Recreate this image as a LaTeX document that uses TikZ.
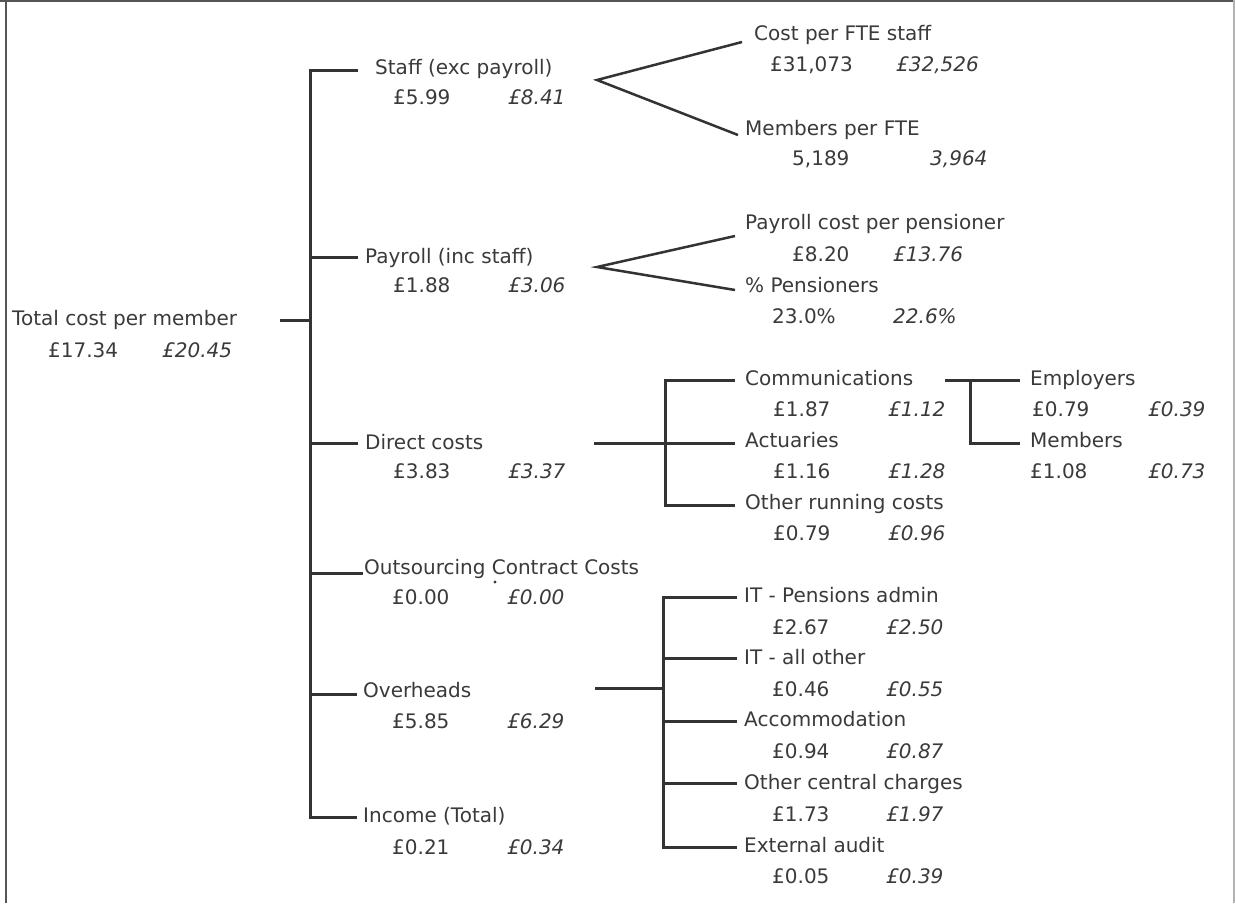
\documentclass[tikz,border=0pt]{standalone}
\usepackage{fontspec}
\setmainfont{DejaVu Sans}
\definecolor{txt}{HTML}{3A3A3A}
\definecolor{ln}{HTML}{333333}
\definecolor{frame}{HTML}{555555}
\begin{document}
\begin{tikzpicture}[x=1pt,y=-1pt,
  lbl/.style={anchor=west,inner sep=0pt,text height=14.5pt,text depth=0pt,text=txt,font=\fontsize{20}{24}\selectfont},
  ival/.style={lbl,font=\fontsize{20}{24}\selectfont\itshape},
  conn/.style={draw=ln,line width=3pt,line join=miter},
  fork/.style={draw=ln,line width=2.5pt,line join=miter}]
\useasboundingbox (0,0) rectangle (1235,903);
\fill[white] (0,0) rectangle (1235,903);
% frame
\draw[frame,line width=2pt] (0,1) -- (1235,1);
\draw[frame,line width=2.5pt] (6,0) -- (6,903);
\draw[gray!60,line width=1.5pt] (1234,0) -- (1234,903);

% root
\node[lbl] (root) at (12,318) {Total cost per member};
\node[lbl] (rootA) at (48,350) {£17.34};
\node[ival] (rootB) at (162,350) {£20.45};

% trunk
\coordinate (rootStub) at (280,320);
\coordinate (tRoot) at (310,320);
\coordinate (tStaff) at (310,70);  \coordinate (eStaff) at (358,70);
\coordinate (tPay) at (310,257);   \coordinate (ePay) at (358,257);
\coordinate (tDir) at (310,443);   \coordinate (eDir) at (358,443);
\coordinate (tOut) at (310,573);   \coordinate (eOut) at (363,573);
\coordinate (tOvh) at (310,694);   \coordinate (eOvh) at (357,694);
\coordinate (tInc) at (310,817);   \coordinate (eInc) at (357,817);
\draw[conn] (eStaff) -- (tStaff) -- (tInc) -- (eInc);
\draw[conn] (rootStub) -- (tRoot);
\draw[conn] (tPay) -- (ePay);
\draw[conn] (tDir) -- (eDir);
\draw[conn] (tOut) -- (eOut);
\draw[conn] (tOvh) -- (eOvh);

% level 1
\node[lbl] (staff) at (375,67) {Staff (exc payroll)};
\node[lbl] (staffA) at (393,97) {£5.99};
\node[ival] (staffB) at (508,97) {£8.41};

\node[lbl] (pay) at (365,256) {Payroll (inc staff)};
\node[lbl] (payA) at (393,285) {£1.88};
\node[ival] (payB) at (508,285) {£3.06};

\node[lbl] (dir) at (365,442) {Direct costs};
\node[lbl] (dirA) at (393,471) {£3.83};
\node[ival] (dirB) at (508,471) {£3.37};

\node[lbl] (out) at (364,567) {Outsourcing Contract Costs};
\node[lbl] (outA) at (392,597) {£0.00};
\node[ival] (outB) at (507,597) {£0.00};
\fill[txt] (495,582) circle (1.6);

\node[lbl] (ovh) at (363,690) {Overheads};
\node[lbl] (ovhA) at (392,721) {£5.85};
\node[ival] (ovhB) at (507,721) {£6.29};

\node[lbl] (inc) at (363,815) {Income (Total)};
\node[lbl] (incA) at (392,847) {£0.21};
\node[ival] (incB) at (507,847) {£0.34};

% staff fork
\coordinate (fS) at (597,80);
\coordinate (fS1) at (742,42);
\coordinate (fS2) at (738,135);
\draw[fork] (fS1) -- (fS) -- (fS2);
\node[lbl] (cpf) at (754,33) {Cost per FTE staff};
\node[lbl] (cpfA) at (770,64) {£31,073};
\node[ival] (cpfB) at (896,64) {£32,526};
\node[lbl] (mpf) at (745,128) {Members per FTE};
\node[lbl] (mpfA) at (792,158) {5,189};
\node[ival] (mpfB) at (930,158) {3,964};

% payroll fork
\coordinate (fP) at (597,267);
\coordinate (fP1) at (735,236);
\coordinate (fP2) at (735,290);
\draw[fork] (fP1) -- (fP) -- (fP2);
\node[lbl] (pcp) at (745,222) {Payroll cost per pensioner};
\node[lbl] (pcpA) at (792,254) {£8.20};
\node[ival] (pcpB) at (893,254) {£13.76};
\node[lbl] (pp) at (745,285) {\% Pensioners};
\node[lbl] (ppA) at (772,316) {23.0\%};
\node[ival] (ppB) at (893,316) {22.6\%};

% direct costs sub-tree
\coordinate (dA) at (594,443);
\coordinate (dAe) at (735,443);
\coordinate (dC) at (665,380);  \coordinate (dCe) at (735,380);
\coordinate (dO) at (665,505);  \coordinate (dOe) at (735,505);
\draw[conn] (dA) -- (dAe);
\draw[conn] (dCe) -- (dC) -- (dO) -- (dOe);
\node[lbl] (com) at (745,378) {Communications};
\node[lbl] (comA) at (773,409) {£1.87};
\node[ival] (comB) at (888,409) {£1.12};
\node[lbl] (act) at (745,440) {Actuaries};
\node[lbl] (actA) at (773,471) {£1.16};
\node[ival] (actB) at (888,471) {£1.28};
\node[lbl] (orc) at (745,502) {Other running costs};
\node[lbl] (orcA) at (773,533) {£0.79};
\node[ival] (orcB) at (888,533) {£0.96};

% communications sub-tree
\coordinate (cs0) at (945,380);
\coordinate (cs1) at (970,380);
\coordinate (cs2) at (970,443);
\coordinate (cEe) at (1020,380);
\coordinate (cMe) at (1020,443);
\draw[conn] (cs0) -- (cEe);
\draw[conn] (cs1) -- (cs2) -- (cMe);
\node[lbl] (emp) at (1030,378) {Employers};
\node[lbl] (empA) at (1032,409) {£0.79};
\node[ival] (empB) at (1148,409) {£0.39};
\node[lbl] (mem) at (1030,440) {Members};
\node[lbl] (memA) at (1030,471) {£1.08};
\node[ival] (memB) at (1148,471) {£0.73};

% overheads sub-tree
\coordinate (oA) at (595,688);
\coordinate (oV) at (663,688);
\coordinate (o1) at (663,597); \coordinate (o1e) at (737,597);
\coordinate (o2) at (663,658); \coordinate (o2e) at (737,658);
\coordinate (o3) at (663,721); \coordinate (o3e) at (737,721);
\coordinate (o4) at (663,783); \coordinate (o4e) at (737,783);
\coordinate (o5) at (663,847); \coordinate (o5e) at (737,847);
\draw[conn] (oA) -- (oV);
\draw[conn] (o1e) -- (o1) -- (o5) -- (o5e);
\draw[conn] (o2) -- (o2e);
\draw[conn] (o3) -- (o3e);
\draw[conn] (o4) -- (o4e);
\node[lbl] (itp) at (744,595) {IT - Pensions admin};
\node[lbl] (itpA) at (772,627) {£2.67};
\node[ival] (itpB) at (886,627) {£2.50};
\node[lbl] (ito) at (744,657) {IT - all other};
\node[lbl] (itoA) at (772,689) {£0.46};
\node[ival] (itoB) at (886,689) {£0.55};
\node[lbl] (acc) at (744,719) {Accommodation};
\node[lbl] (accA) at (772,751) {£0.94};
\node[ival] (accB) at (886,751) {£0.87};
\node[lbl] (occ) at (744,782) {Other central charges};
\node[lbl] (occA) at (772,814) {£1.73};
\node[ival] (occB) at (886,814) {£1.97};
\node[lbl] (ext) at (744,845) {External audit};
\node[lbl] (extA) at (772,876) {£0.05};
\node[ival] (extB) at (886,876) {£0.39};
\end{tikzpicture}
\end{document}
